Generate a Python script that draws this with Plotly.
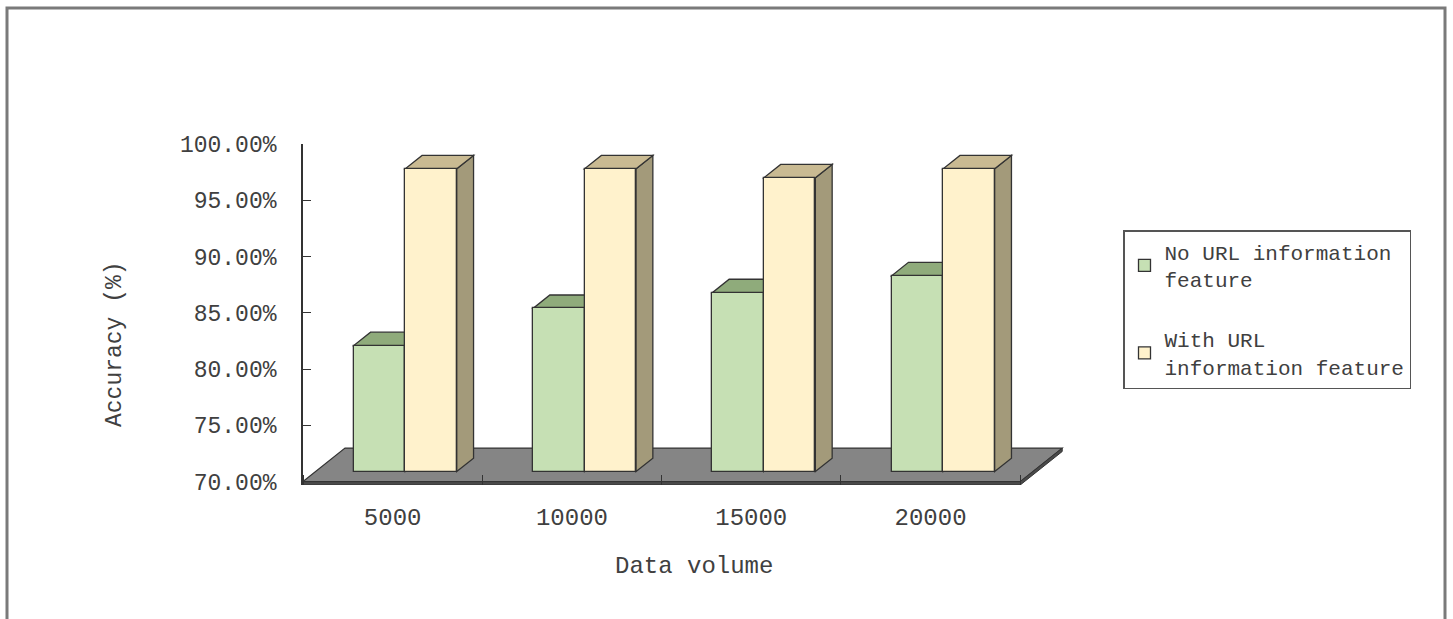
import plotly.graph_objects as go

# ---- data -------------------------------------------------------------
categories = ["5000", "10000", "15000", "20000"]
no_url = [81.2, 84.5, 85.9, 87.4]          # accuracy without URL feature (%)
with_url = [96.9, 96.9, 96.1, 96.9]        # accuracy with URL feature (%)
series_names = ["No URL information<br>feature", "With URL<br>information feature"]
y_ticks = [70, 75, 80, 85, 90, 95, 100]

# ---- figure geometry --------------------------------------------------
W, H = 1453, 619
M_L, M_R, M_T, M_B = 303, 379, 144, 134
X_RANGE = [-0.5, 3.8]
Y_MIN, Y_BASE, Y_MAX = 69.7, 70.0, 100.0
PX_X = (W - M_L - M_R) / (X_RANGE[1] - X_RANGE[0])   # pixels per x unit
PX_Y = (H - M_T - M_B) / (Y_MAX - Y_MIN)             # pixels per y unit

# pseudo-3D depth of the floor, expressed in axis units
DEPTH_X = 42 / PX_X
DEPTH_Y = 33.5 / PX_Y
F_FRONT, F_BACK = 0.30, 0.70           # bars sit in the middle of the floor depth
FX, FY = F_FRONT * DEPTH_X, F_FRONT * DEPTH_Y
DX, DY = (F_BACK - F_FRONT) * DEPTH_X, (F_BACK - F_FRONT) * DEPTH_Y
BAR_W = 51.5 / PX_X

FONT = "Liberation Mono"
TXT = "#404040"
EDGE = "#333333"

front_colors = ["#c6e0b4", "#fff2cc"]
top_colors = ["#8fab7b", "#c9ba92"]
side_colors = ["#7d9468", "#a39a7a"]

xs = list(range(len(categories)))
series = [no_url, with_url]
offsets = [FX - BAR_W, FX]

fig = go.Figure()

# front faces of the columns
for i, (vals, name, off, col) in enumerate(zip(series, series_names, offsets, front_colors)):
    fig.add_trace(go.Bar(
        x=xs, y=[v - Y_BASE for v in vals], base=Y_BASE + FY,
        width=BAR_W, offset=off, name=name, legendgroup=f"g{i}",
        marker=dict(color=col, line=dict(color=EDGE, width=1.3)),
        customdata=vals, hovertemplate="%{customdata:.2f}%<extra></extra>",
    ))

shapes = []
# floor slab
x0f, x1f = X_RANGE[0], len(categories) - 0.5
shapes.append(dict(type="path", layer="below", xref="x", yref="y",
                   path=f"M{x0f},{Y_BASE} L{x1f},{Y_BASE} L{x1f + DEPTH_X},{Y_BASE + DEPTH_Y} "
                        f"L{x0f + DEPTH_X},{Y_BASE + DEPTH_Y} Z",
                   fillcolor="#858585", line=dict(color=EDGE, width=1.2)))
shapes.append(dict(type="path", layer="below", xref="x", yref="y",
                   path=f"M{x0f},{Y_MIN} L{x1f},{Y_MIN} L{x1f + DEPTH_X},{Y_MIN + DEPTH_Y} "
                        f"L{x1f + DEPTH_X},{Y_BASE + DEPTH_Y} L{x1f},{Y_BASE} L{x0f},{Y_BASE} Z",
                   fillcolor="#4a4a4a", line=dict(color=EDGE, width=1)))

# top and side faces of each column
for vals, off, tc, sc in zip(series, offsets, top_colors, side_colors):
    for x, v in zip(xs, vals):
        xl, xr = x + off, x + off + BAR_W
        b, t = Y_BASE + FY, v + FY
        shapes.append(dict(type="path", layer="below", xref="x", yref="y",
                           path=f"M{xr},{b} L{xr + DX},{b + DY} L{xr + DX},{t + DY} L{xr},{t} Z",
                           fillcolor=sc, line=dict(color=EDGE, width=1.3)))
        shapes.append(dict(type="path", layer="below", xref="x", yref="y",
                           path=f"M{xl},{t} L{xr},{t} L{xr + DX},{t + DY} L{xl + DX},{t + DY} Z",
                           fillcolor=tc, line=dict(color=EDGE, width=1.3)))


def paper_x(px):
    return (px - M_L) / (W - M_L - M_R)


def paper_y(py):
    return (H - M_B - py) / (H - M_T - M_B)


# outer chart frame (open at the bottom edge)
shapes.append(dict(type="path", xref="paper", yref="paper", layer="above",
                   path=f"M{paper_x(7)},{paper_y(625)} L{paper_x(7)},{paper_y(8)} "
                        f"L{paper_x(1445)},{paper_y(8)} L{paper_x(1445)},{paper_y(625)}",
                   line=dict(color="#7a7a7a", width=3)))

fig.update_layout(
    width=W, height=H,
    margin=dict(l=M_L, r=M_R, t=M_T, b=M_B, autoexpand=False),
    paper_bgcolor="white", plot_bgcolor="white",
    font=dict(family=FONT, size=22, color=TXT),
    barmode="overlay", bargap=0,
    shapes=shapes,
    showlegend=True,
    legend=dict(x=paper_x(1123), y=paper_y(230), xanchor="left", yanchor="top",
                bgcolor="white", bordercolor="#555555", borderwidth=1.5,
                font=dict(family=FONT, size=21, color=TXT),
                traceorder="grouped", tracegroupgap=30, itemwidth=30),
    xaxis=dict(range=X_RANGE, showgrid=False, zeroline=False, showline=False,
               tickmode="array", tickvals=xs, ticktext=categories, ticks="",
               tickfont=dict(family=FONT, size=24, color=TXT), ticklabelstandoff=15,
               minor=dict(tickmode="array", tickvals=[i - 0.5 for i in range(len(categories) + 1)],
                          ticks="inside", ticklen=10, tickcolor=EDGE, tickwidth=1.3,
                          showgrid=False)),
    yaxis=dict(range=[Y_MIN, Y_MAX], showgrid=False, zeroline=False,
               showline=True, linecolor=EDGE, linewidth=1.8,
               tickmode="array", tickvals=y_ticks, ticktext=[f"{v:.2f}%" for v in y_ticks],
               ticks="inside", ticklen=8, tickcolor=EDGE, tickwidth=1.3,
               tickfont=dict(family=FONT, size=23, color=TXT), ticklabelstandoff=20),
    annotations=[
        dict(text="Accuracy (%)", xref="paper", yref="paper", x=paper_x(115), y=paper_y(344),
             xanchor="center", yanchor="middle",
             textangle=-90, showarrow=False, font=dict(family=FONT, size=23, color=TXT)),
        dict(text="Data volume", xref="paper", yref="paper", x=paper_x(694), y=paper_y(566),
             xanchor="center", yanchor="middle",
             showarrow=False, font=dict(family=FONT, size=24, color=TXT)),
    ],
)

fig.write_html("out.html")
